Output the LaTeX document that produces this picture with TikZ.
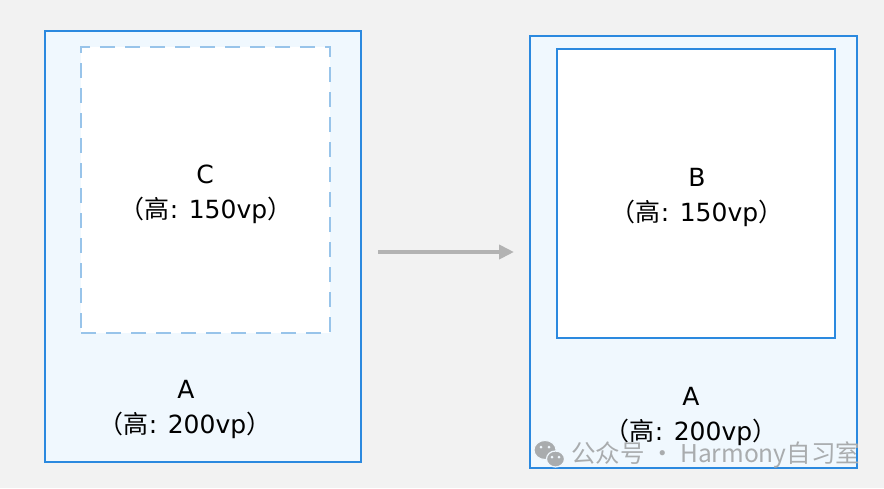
\documentclass[tikz,border=0pt]{standalone}
\usepackage{fontspec}
\setmainfont{DejaVu Sans}
\newfontfamily\cjk{Noto Sans CJK SC}
\usetikzlibrary{arrows.meta, positioning, calc}
\definecolor{pagebg}{HTML}{F2F2F2}
\definecolor{outerfill}{HTML}{F0F8FE}
\definecolor{borderblue}{HTML}{2B89DF}
\definecolor{dashblue}{HTML}{98C4EA}
\definecolor{arrowgray}{HTML}{B3B3B3}
\definecolor{markgray}{HTML}{A9ACAE}
\newcommand{\heightof}[1]{{\cjk （高}: #1{\cjk ）}}
\tikzstyle{outerbox} = [rectangle, draw=borderblue, fill=outerfill, line width=2.4pt, inner sep=0pt]
\tikzstyle{innerbox} = [rectangle, draw=borderblue, fill=white, line width=2.4pt, inner sep=0pt]
\tikzstyle{ghostbox} = [rectangle, draw=dashblue, fill=white, line width=2.6pt, dash pattern=on 15pt off 10pt, inner sep=0pt]
\tikzstyle{boxlabel} = [anchor=base, inner sep=0pt, text=black, font=\fontsize{25}{25}\selectfont]
\tikzstyle{arrow} = [line width=4pt, arrowgray, -{Triangle[length=15pt, width=14pt]}]

\begin{document}
\begin{tikzpicture}[x=1pt, y=-1pt]
    % Background
    \fill[pagebg] (0,0) rectangle (884,488);
    \useasboundingbox (0,0) rectangle (884,488);

    % Left: A with C
    \node[outerbox, minimum width=316pt, minimum height=431pt] (outerL) at (203,246.5) {};
    \node[ghostbox, minimum width=249pt, minimum height=286pt] (boxC) at (205.5,190) {};
    \node[boxlabel] (nameC) at (205,183) {C};
    \node[boxlabel] (heightC) at (206,218) {\heightof{150vp}};
    \node[boxlabel] (nameAL) at (186,398) {A};
    \node[boxlabel] (heightAL) at (185,433) {\heightof{200vp}};

    % Right: A with B
    \node[outerbox, minimum width=327pt, minimum height=432pt] (outerR) at (693.5,252) {};
    \node[innerbox, minimum width=278pt, minimum height=289pt] (boxB) at (696,193.5) {};
    \node[boxlabel] (nameB) at (697,186) {B};
    \node[boxlabel] (heightB) at (697,221) {\heightof{150vp}};
    \node[boxlabel] (nameAR) at (691,405) {A};
    \node[boxlabel] (heightAR) at (691,440) {\heightof{200vp}};

    % Arrow
    \coordinate (arrowstart) at (378,252);
    \coordinate (arrowend) at (514,252);
    \draw[arrow] (arrowstart) -- (arrowend);

    % Watermark
    \fill[markgray, draw=outerfill, line width=1pt] (545,450) ellipse (11pt and 9.5pt);
    \fill[markgray, draw=outerfill, line width=1.2pt] (555.5,459) ellipse (9pt and 8pt);
    \foreach \ex/\ey in {541/447, 549/447, 552/457, 559/457}
        \fill[outerfill] (\ex,\ey) circle (1.5pt);
    \node[anchor=west, text=markgray, font=\cjk\fontsize{24.5}{24.5}\selectfont, inner sep=0pt] (mark) at (571,455) {公众号 · Harmony自习室};
\end{tikzpicture}
\end{document}
